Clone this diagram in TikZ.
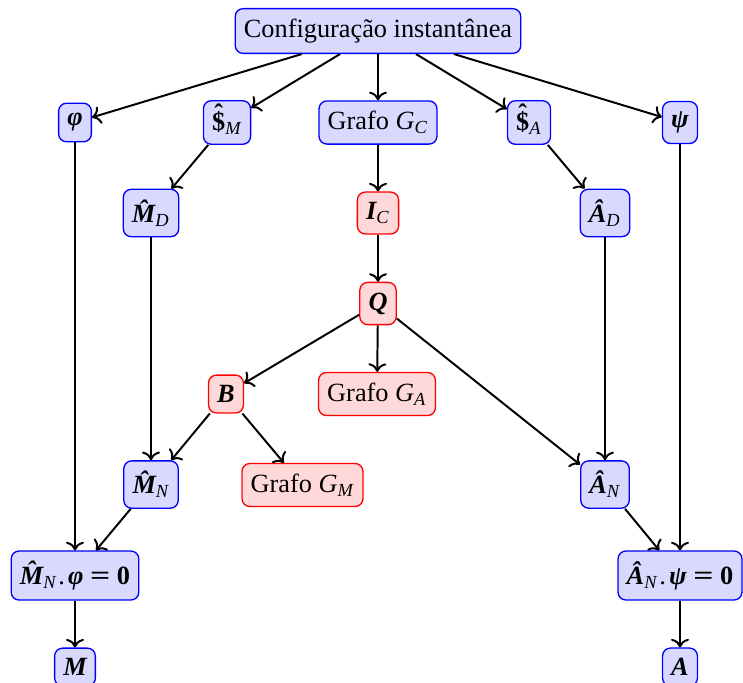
\documentclass[tikz,border=0pt]{standalone}
\usepackage{fontspec}
\usepackage{graphicx}
\setmainfont{Liberation Serif}
\usetikzlibrary{arrows.meta}
\newcommand\sbs[1]{\textsubscript{\mdseries\itshape #1}}
\newcommand\bit[1]{{\bfseries\itshape #1}}
\newcommand\hatdollar{{\bfseries\ooalign{\char36\cr\hidewidth\raisebox{0.28em}{\char"02C6}\hidewidth\cr}}}
\newcommand\eqsp{\hspace{0.25em}}
\newcommand\beq{\scalebox{1.35}[1]{\textbf{=}}}
\tikzset{
  bbox/.style={draw=blue, fill=blue!15, rounded corners=3pt, line width=0.5pt, inner xsep=3.3pt, inner ysep=3.9pt},
  rbox/.style={draw=red, fill=red!15, rounded corners=3pt, line width=0.5pt, inner xsep=3.3pt, inner ysep=3.9pt},
  conn/.style={->, line width=0.75pt}
}
\begin{document}
\begin{tikzpicture}[x=0.38pt, y=-0.38pt]
\useasboundingbox (0,0) rectangle (743,682);
\node[bbox] (top) at (378,31) {Configuração instantânea};
\node[bbox] (phi) at (75,122.5) {\bit{φ}};
\node[bbox] (sM) at (227,122.5) {\hatdollar\sbs{M}};
\node[bbox] (GC) at (378,122.5) {Grafo \textit{G}\sbs{C}};
\node[bbox] (sA) at (529,122.5) {\hatdollar\sbs{A}};
\node[bbox] (psi) at (680,122.5) {\bit{ψ}};
\node[bbox] (MD) at (151,213) {\bit{\^M}\sbs{D}};
\node[rbox] (IC) at (378,213) {\bit{I}\sbs{C}};
\node[bbox] (AD) at (605,213) {\bit{\^A}\sbs{D}};
\node[rbox] (Q) at (378,303.5) {\bit{Q}};
\node[rbox] (B) at (226,394) {\bit{B}};
\node[rbox] (GA) at (377,394) {Grafo \textit{G}\sbs{A}};
\node[bbox] (MN) at (151,484.5) {\bit{\^M}\sbs{N}};
\node[rbox] (GM) at (302.5,485) {Grafo \textit{G}\sbs{M}};
\node[bbox] (AN) at (605,484.5) {\bit{\^A}\sbs{N}};
\node[bbox] (eqM) at (75,575.5) {\bit{\^M}\sbs{N}\kern0.6pt.\kern1.2pt\bit{φ}\eqsp\beq\eqsp\textbf{0}};
\node[bbox] (eqA) at (680,575.5) {\bit{\^A}\sbs{N}\kern0.6pt.\kern1.2pt\bit{ψ}\eqsp\beq\eqsp\textbf{0}};
\node[bbox] (M) at (75,667) {\bit{M}};
\node[bbox] (A) at (680,667) {\bit{A}};
\draw[conn] (top) -- (phi);
\draw[conn] (top) -- (sM);
\draw[conn] (top) -- (GC);
\draw[conn] (top) -- (sA);
\draw[conn] (top) -- (psi);
\draw[conn] (sM) -- (MD);
\draw[conn] (GC) -- (IC);
\draw[conn] (sA) -- (AD);
\draw[conn] (IC) -- (Q);
\draw[conn] (Q) -- (B);
\draw[conn] (Q) -- (GA);
\draw[conn] (Q) -- (AN);
\draw[conn] (B) -- (MN);
\draw[conn] (B) -- (GM);
\draw[conn] (MD) -- (MN);
\draw[conn] (AD) -- (AN);
\draw[conn] (phi) -- (eqM);
\draw[conn] (MN) -- (eqM);
\draw[conn] (psi) -- (eqA);
\draw[conn] (AN) -- (eqA);
\draw[conn] (eqM) -- (M);
\draw[conn] (eqA) -- (A);
\end{tikzpicture}
\end{document}
